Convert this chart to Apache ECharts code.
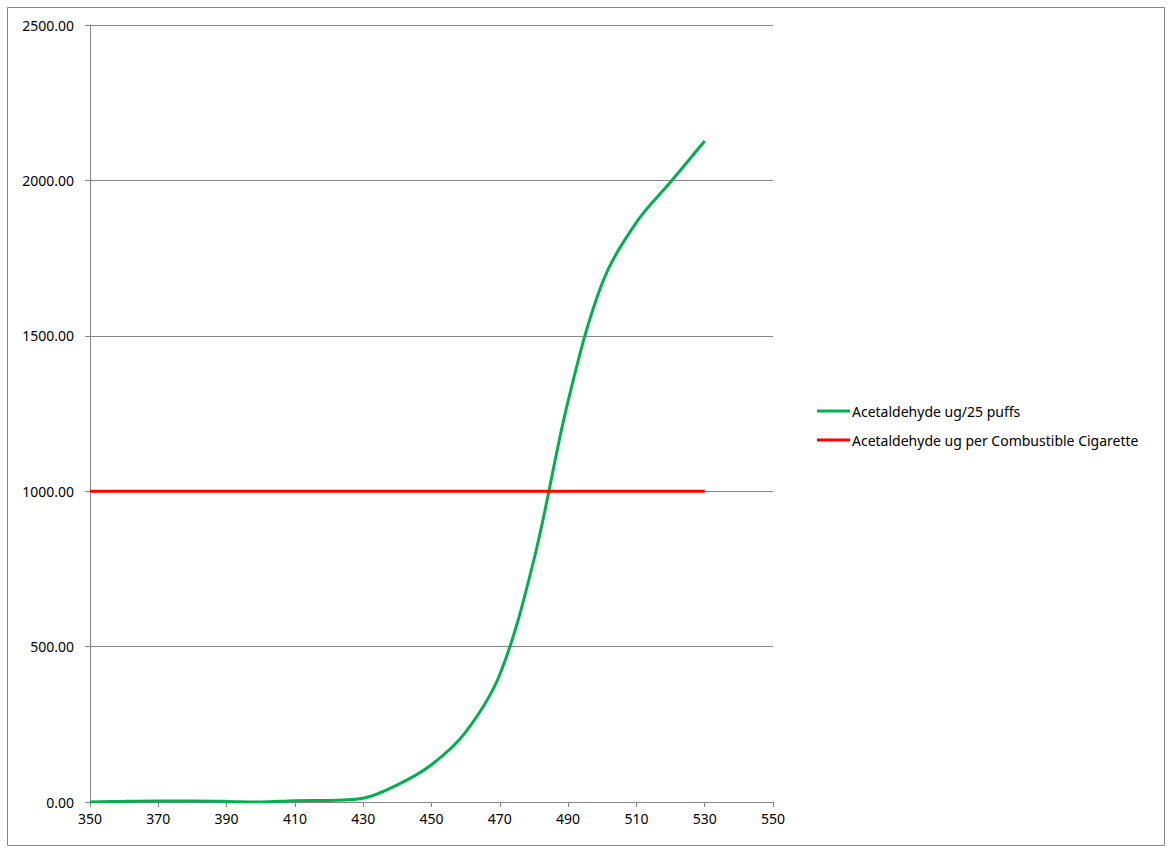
<!DOCTYPE html>
<html>
<head>
<meta charset="utf-8">
<title>Acetaldehyde</title>
<script src="https://cdn.jsdelivr.net/npm/echarts@6/dist/echarts.min.js"></script>
<style>
  html, body { margin: 0; padding: 0; background: #fff; }
  #chart { width: 1171px; height: 850px; }
</style>
</head>
<body>
<div id="chart"></div>
<script>
// temperature (x) and measured values
var temps = [350, 360, 370, 380, 390, 400, 410, 420, 430, 440, 450, 460, 470, 480, 490, 500, 510, 520, 530];
var puffs25 = [0, 2, 3, 3, 2, 0, 4, 5, 12, 55, 120, 225, 410, 780, 1290, 1670, 1865, 1995, 2127];
var cigarette = [1000, 1000, 1000, 1000, 1000, 1000, 1000, 1000, 1000, 1000, 1000, 1000, 1000, 1000, 1000, 1000, 1000, 1000, 1000];
var seriesNames = ['Acetaldehyde ug/25 puffs', 'Acetaldehyde ug per Combustible Cigarette'];

(function() {
  var grey = '#868686';
  var ink = '#000';
  var font = '"Noto Sans", "Open Sans", sans-serif';

  function pairs(ys) {
    return temps.map(function(t, i) { return [t, ys[i]]; });
  }

  var chart = echarts.init(document.getElementById('chart'), null, { renderer: 'svg' });
  chart.setOption({
    animation: false,
    textStyle: { fontFamily: font },
    graphic: [{
      type: 'rect',
      shape: { x: 7.5, y: 7.5, width: 1157, height: 838 },
      style: { fill: 'none', stroke: grey, lineWidth: 1 },
      silent: true
    }],
    legend: {
      orient: 'vertical',
      left: 812,
      top: 399,
      itemWidth: 33,
      itemHeight: 3,
      itemGap: 15,
      icon: 'rect',
      textStyle: { color: ink, fontSize: 14, fontFamily: font, padding: [0, 0, 0, -3] },
      data: seriesNames
    },
    grid: { left: 90, right: 398, top: 25, bottom: 48, containLabel: false },
    xAxis: {
      type: 'value',
      min: 350,
      max: 550,
      interval: 20,
      axisLine: { lineStyle: { color: grey } },
      axisTick: { show: true, length: 5, lineStyle: { color: grey } },
      axisLabel: { color: ink, fontSize: 14, margin: 9 },
      splitLine: { show: false }
    },
    yAxis: {
      type: 'value',
      min: 0,
      max: 2500,
      interval: 500,
      axisLine: { show: true, lineStyle: { color: grey } },
      axisTick: { show: true, length: 5, lineStyle: { color: grey } },
      axisLabel: {
        color: ink,
        fontSize: 14,
        margin: 16,
        formatter: function(v) { return v.toFixed(2); }
      },
      splitLine: { lineStyle: { color: grey, width: 1 } }
    },
    series: [
      {
        name: seriesNames[0],
        type: 'line',
        data: pairs(puffs25),
        smooth: 0.35,
        showSymbol: false,
        lineStyle: { color: '#00B050', width: 3 },
        itemStyle: { color: '#00B050' }
      },
      {
        name: seriesNames[1],
        type: 'line',
        data: pairs(cigarette),
        showSymbol: false,
        lineStyle: { color: '#FF0000', width: 3 },
        itemStyle: { color: '#FF0000' }
      }
    ]
  });
  window.addEventListener('resize', function() { chart.resize(); });
})();
</script>
</body>
</html>
